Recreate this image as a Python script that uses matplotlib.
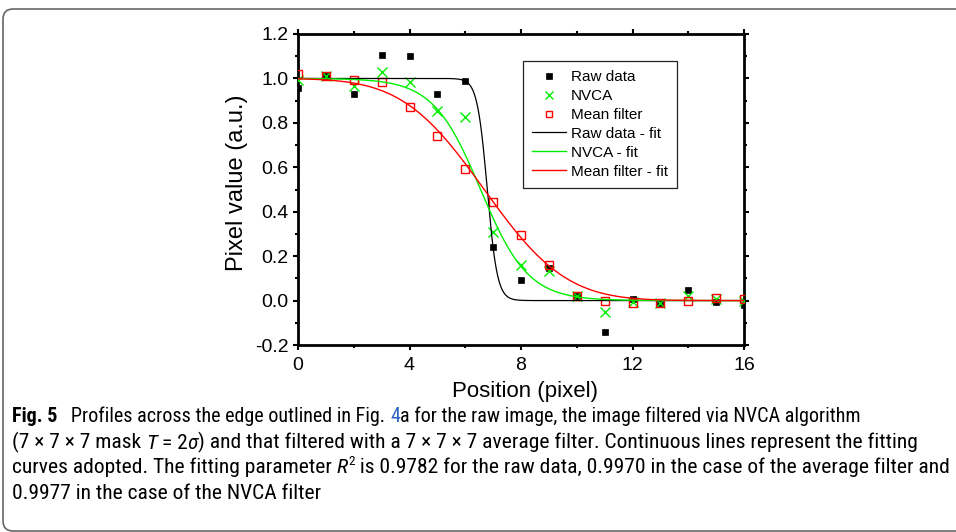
import os
import math
import numpy as np
import matplotlib
matplotlib.use("Agg")
import matplotlib.pyplot as plt
from matplotlib import font_manager as fm
from matplotlib.patches import FancyBboxPatch
from matplotlib.transforms import IdentityTransform
from matplotlib.ticker import FixedLocator, MultipleLocator

plt.rcParams["font.family"] = ["Liberation Sans", "DejaVu Sans"]

# ---------------- data ----------------
positions = [0, 1, 2, 3, 4, 5, 6, 7, 8, 9, 10, 11, 12, 13, 14, 15, 16]
raw_data = [0.957, 1.012, 0.931, 1.107, 1.102, 0.931, 0.987, 0.241, 0.094,
            0.147, 0.019, -0.141, 0.008, -0.013, 0.046, -0.008, -0.021]
nvca = [0.994, 1.012, 0.967, 1.027, 0.982, 0.855, 0.828, 0.307, 0.162,
        0.132, 0.019, -0.051, -0.008, -0.013, 0.019, 0.008, 0.000]
mean_filter = [1.021, 1.012, 0.994, 0.982, 0.871, 0.739, 0.594, 0.444, 0.297,
               0.162, 0.022, -0.003, -0.010, -0.013, -0.003, 0.010, 0.008]

# fitted edge models (parameters)
raw_fit_params = [6.79, 0.18]      # Boltzmann: centre, width
nvca_fit_params = [6.55, 0.85]     # Boltzmann: centre, width
mean_fit_params = [6.68, 2.30]     # erf edge: centre, sigma

legend_labels = ["Raw data", "NVCA", "Mean filter",
                 "Raw data - fit", "NVCA - fit", "Mean filter - fit"]
x_ticks = [0, 4, 8, 12, 16]
x_tick_labels = ["0", "4", "8", "12", "16"]
y_ticks = [-0.2, 0.0, 0.2, 0.4, 0.6, 0.8, 1.0, 1.2]
y_tick_labels = ["-0.2", "0.0", "0.2", "0.4", "0.6", "0.8", "1.0", "1.2"]
x_label = "Position (pixel)"
y_label = "Pixel value (a.u.)"

caption_line1 = [("Fig. 5", "bold", "k"),
                 ("   Profiles across the edge outlined in Fig. ", "regular", "k"),
                 ("4", "regular", "#2a62c4"),
                 ("a for the raw image, the image filtered via NVCA algorithm", "regular", "k")]
caption_line2 = [("(7 × 7 × 7 mask ", "regular", "k"),
                 ("T", "italic", "k"),
                 (" = 2", "regular", "k"),
                 ("σ", "italic", "k"),
                 (") and that filtered with a 7 × 7 × 7 average filter. Continuous lines represent the fitting",
                  "regular", "k")]
caption_line3 = [("curves adopted. The fitting parameter ", "regular", "k"),
                 ("R", "italic", "k"),
                 ("2", "sup", "k"),
                 (" is 0.9782 for the raw data, 0.9970 in the case of the average filter and",
                  "regular", "k")]
caption_line4 = [("0.9977 in the case of the NVCA filter", "regular", "k")]


# ---------------- helpers ----------------
def boltzmann(x, centre, width):
    return 1.0 / (1.0 + np.exp((x - centre) / width))


def erf_edge(x, centre, sigma):
    return np.array([0.5 * math.erfc((v - centre) / (sigma * math.sqrt(2.0))) for v in x])


def caption_fonts():
    """Find a condensed/narrow sans family for the caption (regular, bold, italic)."""
    groups = {}
    for fe in fm.fontManager.ttflist:
        base = os.path.basename(fe.fname).lower()
        cond = ("condensed" in base or "narrow" in base or
                fe.stretch in ("condensed", "semi-condensed", "extra-condensed"))
        if not cond:
            continue
        if "extra" in base or "ultra" in base or "semi" in base:
            continue
        if "mono" in base or "serif" in base:
            continue
        key = (fe.name, str(fe.stretch))
        w = fe.weight if isinstance(fe.weight, int) else {"normal": 400, "regular": 400, "bold": 700}.get(str(fe.weight), 400)
        style = fe.style
        d = groups.setdefault(key, {})
        if style == "normal" and w == 400:
            d.setdefault("regular", fe.fname)
        elif style == "normal" and w == 700:
            d.setdefault("bold", fe.fname)
        elif style in ("italic", "oblique") and w == 400:
            d.setdefault("italic", fe.fname)
    pref = ["Noto Sans", "Roboto Condensed", "Open Sans Condensed", "Liberation Sans Narrow",
            "DejaVu Sans", "DejaVu Sans Condensed"]
    keys = sorted(groups.keys(), key=lambda k: (pref.index(k[0]) if k[0] in pref else 99))
    for k in keys:
        d = groups[k]
        if "regular" in d and "bold" in d and "italic" in d:
            return {"regular": fm.FontProperties(fname=d["regular"]),
                    "bold": fm.FontProperties(fname=d["bold"]),
                    "italic": fm.FontProperties(fname=d["italic"])}
    return {"regular": fm.FontProperties(family="Liberation Sans"),
            "bold": fm.FontProperties(family="Liberation Sans", weight="bold"),
            "italic": fm.FontProperties(family="Liberation Sans", style="italic")}


# ---------------- figure ----------------
W, H = 956, 532
fig = plt.figure(figsize=(W / 100, H / 100), dpi=100)
fig.patch.set_facecolor("white")

ax_left, ax_right, ax_top, ax_bottom = 298, 744, 34, 345
ax = fig.add_axes([ax_left / W, 1 - ax_bottom / H, (ax_right - ax_left) / W, (ax_bottom - ax_top) / H])

green = "#00ee00"
red = "#ff0000"

ax.plot(positions, raw_data, ls="none", marker="s", ms=5.0, mfc="k", mec="k", mew=0.5,
        label=legend_labels[0], zorder=3)
ax.plot(positions, nvca, ls="none", marker="x", ms=6.5, mew=1.0, color=green,
        label=legend_labels[1], zorder=3)
ax.plot(positions, mean_filter, ls="none", marker="s", ms=5.5, mfc="none", mec=red, mew=1.0,
        label=legend_labels[2], zorder=3)

xs = np.linspace(0, 16, 1601)
ax.plot(xs, boltzmann(xs, *raw_fit_params), color="k", lw=0.9, label=legend_labels[3], zorder=4)
ax.plot(xs, boltzmann(xs, *nvca_fit_params), color=green, lw=1.0, label=legend_labels[4], zorder=4)
ax.plot(xs, erf_edge(xs, *mean_fit_params), color=red, lw=1.0, label=legend_labels[5], zorder=4)

ax.set_xlim(0, 16)
ax.set_ylim(-0.2, 1.2)
ax.xaxis.set_major_locator(FixedLocator(x_ticks))
ax.xaxis.set_minor_locator(MultipleLocator(2))
ax.yaxis.set_major_locator(FixedLocator(y_ticks))
ax.yaxis.set_minor_locator(MultipleLocator(0.1))
ax.set_xticklabels(x_tick_labels)
ax.set_yticklabels(y_tick_labels)
ax.tick_params(which="both", direction="out", top=True, right=True, width=1.5, colors="k")
ax.tick_params(which="major", length=3.8)
ax.tick_params(which="minor", length=2.2)
ax.tick_params(axis="x", which="major", labelsize=14, pad=5.0)
ax.tick_params(axis="y", which="major", labelsize=14, pad=3.2)
for sp in ax.spines.values():
    sp.set_linewidth(2.0)
    sp.set_color("k")

ax.set_xlabel(x_label, fontsize=16)
ax.set_ylabel(y_label, fontsize=17)
ax.xaxis.set_label_coords(0.51, -0.151)
ax.xaxis.label.set_va("center")
ax.yaxis.set_label_coords(-0.137, 0.521)
ax.yaxis.label.set_va("center")

leg = ax.legend(loc="upper left", bbox_to_anchor=((523 - ax_left) / (ax_right - ax_left),
                                                  1 - (61 - ax_top) / (ax_bottom - ax_top)),
                borderaxespad=0, fontsize=11, frameon=True, fancybox=False, framealpha=1,
                edgecolor="#222222", numpoints=1, handlelength=2.2, handletextpad=0.35,
                labelspacing=0.32, borderpad=0.6, markerscale=0.8)
leg.get_frame().set_linewidth(0.9)

# outer rounded frame
frame = FancyBboxPatch((3, 1), 1200, H - 10, boxstyle="round,pad=0,rounding_size=10",
                       transform=IdentityTransform(), fill=False, ec="#666666", lw=1.2)
fig.add_artist(frame)

# caption: runs of (left x px, baseline px from bottom, target width px, pieces)
fonts = caption_fonts()
caption_runs = [
    (12, 110, 845, caption_line1),
    (12, 84, 901, caption_line2),
    (12, 59, 936, caption_line3),
    (12, 33, 306, caption_line4),
]


def build_run(x0, yb, pieces, size):
    made = []
    prev = None
    base_piece = None
    for s, style, color in pieces:
        if style == "sup":
            fp = fonts["regular"].copy()
            fp.set_size(size * 0.62)
            t = ax.annotate(s, xy=(1, 0), xycoords=prev, xytext=(0.3, size * 0.42),
                            textcoords="offset points", ha="left", va="bottom",
                            fontproperties=fp, color=color, annotation_clip=False)
            made.append(t)
            prev = t
            continue
        fp = fonts[style].copy()
        fp.set_size(size)
        if prev is None:
            t = fig.text(x0, yb, s, fontproperties=fp, color=color, ha="left",
                         va="baseline", transform=IdentityTransform())
        else:
            t = ax.annotate(s, xy=(1, 0), xycoords=(prev, base_piece), ha="left", va="bottom",
                            fontproperties=fp, color=color, annotation_clip=False)
        base_piece = t
        made.append(t)
        prev = t
    return made


base_size = 13.0
runs = [build_run(x0, yb, pcs, base_size) for x0, yb, tw, pcs in caption_runs]
fig.canvas.draw()
rend = fig.canvas.get_renderer()
sizes = []
for made, (x0, yb, tw, pcs) in zip(runs, caption_runs):
    w = made[-1].get_window_extent(rend).x1 - made[0].get_window_extent(rend).x0
    sizes.append(base_size * tw / w)
    for t in made:
        t.remove()
common = float(np.mean(sizes[1:3]))
final_sizes = [sizes[0], common, common, common]
for (x0, yb, tw, pcs), sz in zip(caption_runs, final_sizes):
    build_run(x0, yb, pcs, sz)

fig.savefig("out.png", dpi=100, facecolor="white")
